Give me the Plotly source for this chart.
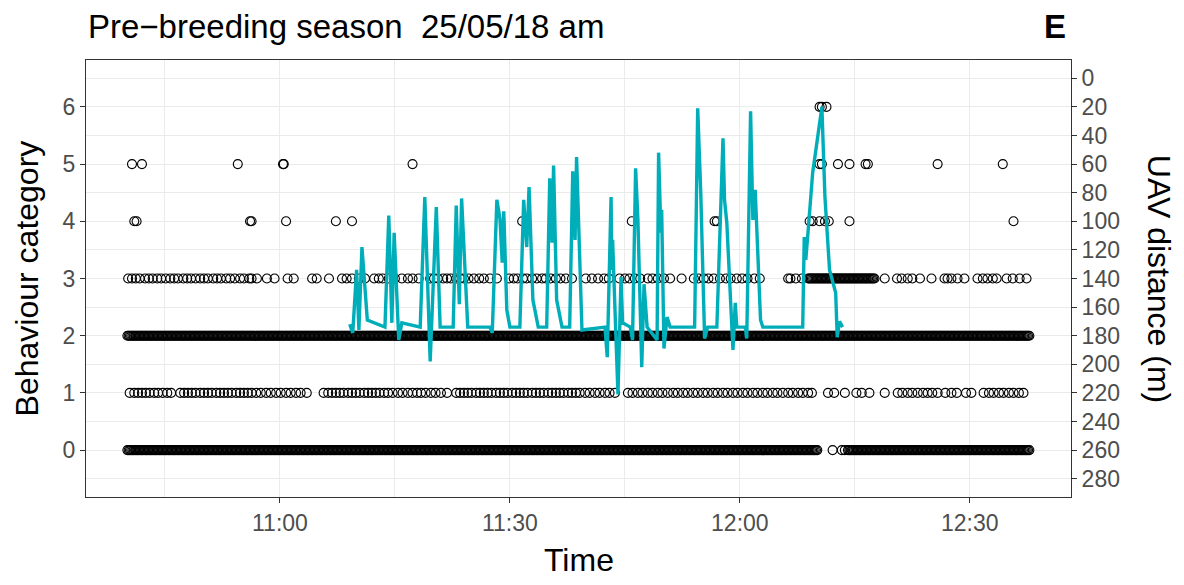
import numpy as np
import pandas as pd
import plotly.graph_objects as go

# ---- data ---------------------------------------------------------------
# All times are minutes after 11:00 on 25/05/18.
DAY_REF = pd.Timestamp("2018-05-25 11:00:00")

# Behaviour bouts scored continuously (category -> list of (start, end)),
# logged every LOG_STEP_S seconds.
LOG_STEP_S = 10
BOUTS = {
    0: [(-19.9, 70.2), (74.1, 97.8)],
    2: [(-19.9, 97.8)],
    3: [(68.9, 77.6)],
}

# Isolated behaviour records per category
REC_0 = [72.1, 73.3, 73.7]
REC_1 = [-19.6, -19.0, -18.5, -18.0, -17.5, -17.0, -16.4, -15.9, -15.3, -14.7,
         -14.2, -13.0, -12.5, -12.0, -11.5, -11.0, -10.4, -9.9, -9.4, -8.9,
         -8.3, -7.8, -7.3, -6.8, -6.3, -5.7, -5.2, -4.7, -4.2, -3.7, -3.1,
         -2.5, -1.8, -1.2, -0.5, 0.1, 0.8, 1.4, 2.1, 2.7, 3.5,
         5.7, 6.3, 6.8, 7.3, 7.8, 8.3, 8.9, 9.4, 9.9, 10.4, 11.0, 11.5, 12.0,
         12.5, 13.0, 13.6, 14.1, 14.7, 15.4, 16.0, 16.7, 17.3, 17.9,
         18.4, 19.0, 19.7, 20.3, 21.0, 21.8,
         23.0, 23.5, 24.0, 24.5, 25.0, 25.6, 26.1, 26.6, 27.1, 27.6, 28.2,
         28.7, 29.2, 29.7, 30.3, 30.8, 31.3, 31.8, 32.3, 32.9, 33.4, 33.9,
         34.4, 35.0, 35.5, 36.0, 36.5, 37.0, 37.6, 38.1, 38.6, 39.1, 39.8,
         40.4, 41.1, 41.7, 42.4, 43.0, 43.7,
         45.4, 46.0, 46.7, 47.3, 48.0, 48.6, 49.3, 49.9, 50.6, 51.3, 51.9,
         52.6, 53.2, 53.9, 54.5, 55.2, 55.8, 56.5, 57.1, 57.8, 58.4, 59.1,
         59.7, 60.4, 61.0, 61.7, 62.3, 63.0, 63.6, 64.3, 64.9, 65.6, 66.3,
         66.9, 67.6, 68.2, 68.9, 69.4,
         71.5, 72.3, 73.7, 75.2, 75.9, 76.9, 78.9,
         80.6, 81.2, 81.9, 82.5, 83.2, 83.9, 84.5, 85.1, 85.8,
         86.8, 87.6, 88.3, 89.5, 90.2,
         91.8, 92.5, 93.1, 93.8, 94.4, 95.1, 95.7, 96.4, 97.0]
REC_3 = [-19.8, -19.3, -18.8, -18.3, -17.6, -17.1, -16.6, -16.0, -15.5, -14.9,
         -14.3, -13.8, -13.3, -12.6, -12.1, -11.6, -11.0, -10.4, -9.9, -9.4,
         -8.7, -8.2, -7.7, -7.0, -6.5, -5.9, -5.2, -4.7, -4.0, -3.7, -3.0,
         -1.7, -0.7, 1.0, 1.8, 4.2, 4.8, 6.4,
         8.1, 8.7, 9.4, 10.3, 11.1, 12.3, 12.9, 13.4, 14.2, 15.0, 15.9,
         16.7, 17.3, 18.1, 19.6, 20.1, 20.6, 21.3, 21.8, 22.3, 23.0, 23.5,
         24.0, 24.6, 25.3, 26.0, 26.6, 27.4, 28.3,
         29.9, 30.5, 31.0, 31.7, 32.2, 32.9, 33.5, 34.2, 34.7, 35.3, 36.0,
         36.6, 37.3, 38.1, 39.9, 40.7, 41.5, 42.3, 42.9,
         44.3, 45.0, 45.6, 46.3, 47.0, 48.0, 48.6, 49.3, 50.1, 50.9, 52.4,
         54.0, 54.6, 55.3, 55.9, 56.6, 57.4, 58.2, 58.8, 59.6, 60.3, 61.0,
         61.9, 62.6, 66.3, 66.6, 67.3, 68.1,
         78.9, 80.5, 81.1, 81.9, 82.5, 83.5, 85.0, 86.7, 87.1, 87.6, 88.4,
         89.3, 91.0, 91.7, 92.3, 93.0, 93.5, 94.8, 95.6, 96.5, 97.4]
REC_4 = [-19.0, -18.7, -3.9, -3.7, 0.8, 7.3, 9.4, 31.6, 45.9, 56.7, 57.0,
         69.1, 69.5, 70.4, 71.1, 71.6, 74.3, 95.7]
REC_5 = [-19.3, -18.0, -5.5, 0.4, 0.5, 17.3, 70.4, 70.7, 72.8, 74.3,
         76.4, 76.7, 85.8, 94.3]
REC_6 = [70.4, 70.7, 71.3]

# UAV distance track (m)
UAV_MIN = [9.1, 9.5, 10.0, 10.3, 10.7, 11.4, 13.7, 14.2, 14.6, 14.9,
           15.5, 15.9, 18.3, 18.9, 19.6, 20.4, 20.9, 22.6, 23.0, 23.4,
           23.7, 24.5, 27.4, 27.7, 28.3, 28.7, 29.0, 29.2, 29.6, 30.0,
           31.3, 31.8, 32.2, 32.5, 33.0, 33.7, 34.8, 35.2, 35.5, 35.7,
           36.1, 36.8, 37.8, 38.2, 38.5, 38.7, 39.4, 42.4, 42.7, 43.2,
           43.3, 43.4, 43.8, 44.1, 44.5, 44.7, 45.7, 46.0, 46.4, 46.7,
           47.2, 47.5, 47.9, 49.2, 49.4, 49.7, 49.8, 50.1, 50.5, 50.9,
           54.1, 54.5, 54.9, 55.4, 55.8, 57.0, 57.8, 58.0, 58.3, 59.1,
           59.4, 59.6, 60.7, 60.9, 61.4, 61.7, 62.0, 62.7, 63.0, 68.2,
           68.4, 68.6, 68.9, 69.5, 70.7, 71.1, 71.7, 72.5, 72.7, 73.0, 73.4]
UAV_DIST = [172, 178, 134, 176, 118, 169, 174, 96, 171, 108,
            183, 171, 174, 83, 198, 90, 174, 174, 89, 158,
            84, 174, 174, 178, 85, 98, 129, 93, 162, 174,
            174, 85, 118, 76, 155, 174, 174, 70, 115, 61,
            155, 174, 174, 65, 113, 55, 176, 174, 195, 83,
            134, 113, 176, 221, 139, 171, 174, 183, 63, 99,
            202, 144, 174, 183, 52, 108, 92, 189, 167, 174,
            174, 21, 80, 182, 174, 174, 42, 85, 101, 190,
            157, 174, 174, 182, 23, 99, 78, 169, 174, 174,
            111, 127, 107, 66, 20, 83, 134, 150, 181, 170, 174]

# Axis ticks
MAJOR_TIMES = ["11:00", "11:30", "12:00", "12:30"]
MINOR_TIMES = ["10:45", "11:15", "11:45", "12:15", "12:45"]
BEHAV_TICKS = [0, 1, 2, 3, 4, 5, 6]
DIST_TICKS = list(range(0, 281, 20))

TITLE = "Pre\u2212breeding season  25/05/18 am"
PANEL_TAG = "E"

# ---- helpers ------------------------------------------------------------
def to_time(minutes):
    return DAY_REF + pd.to_timedelta(np.asarray(minutes, dtype=float), unit="m")


def clock(hhmm):
    return pd.Timestamp(f"2018-05-25 {hhmm}:00")


def behaviour_points():
    xs, ys = [], []
    for cat, bouts in BOUTS.items():
        for start, end in bouts:
            secs = np.arange(start * 60, end * 60 + 1e-6, LOG_STEP_S)
            xs.append(secs / 60.0)
            ys.append(np.full(len(secs), cat))
    for cat, recs in [(0, REC_0), (1, REC_1), (3, REC_3), (4, REC_4),
                      (5, REC_5), (6, REC_6)]:
        xs.append(np.asarray(recs, dtype=float))
        ys.append(np.full(len(recs), cat))
    return np.concatenate(xs), np.concatenate(ys)


# behaviour axis -> distance axis (secondary scale)
def behav_to_dist(b):
    return 260 - 40 * b


BEHAV_RANGE = [-0.82, 6.82]
DIST_RANGE = [behav_to_dist(BEHAV_RANGE[0]), behav_to_dist(BEHAV_RANGE[1])]

# ---- figure -------------------------------------------------------------
FONT = "Liberation Sans, Arial, Helvetica, sans-serif"
TICK_FONT = dict(family=FONT, size=23, color="#4D4D4D")
AX_COL = "#333333"
GRID = "#EBEBEB"
TITLE_SIZE = 33
AXIS_TITLE_SIZE = 32

bx, by = behaviour_points()

fig = go.Figure()
fig.add_trace(go.Scatter(
    x=to_time(bx), y=by, mode="markers",
    marker=dict(symbol="circle-open", size=9, color="black",
                line=dict(width=1.1, color="black")),
    hoverinfo="skip", showlegend=False,
))
fig.add_trace(go.Scatter(
    x=to_time(UAV_MIN), y=UAV_DIST, yaxis="y2", mode="lines",
    line=dict(color="#00AEBA", width=3.4),
    showlegend=False,
))

x_lo, x_hi = -25.3, 103.2

fig.update_layout(
    width=1184, height=585,
    margin=dict(l=86, r=113, t=60, b=88),
    paper_bgcolor="white", plot_bgcolor="white",
    font=dict(family=FONT, color="black"),
    xaxis=dict(
        type="date",
        range=[to_time(x_lo), to_time(x_hi)],
        tickmode="array",
        tickvals=[clock(t) for t in MAJOR_TIMES],
        ticktext=MAJOR_TIMES,
        tickfont=TICK_FONT,
        ticks="outside", ticklen=5, tickwidth=1, tickcolor=AX_COL,
        showgrid=True, gridcolor=GRID, gridwidth=1.3,
        minor=dict(tickmode="array",
                   tickvals=[clock(t) for t in MINOR_TIMES],
                   showgrid=True, gridcolor=GRID, gridwidth=0.7, ticks=""),
        showline=True, linecolor=AX_COL, linewidth=1, mirror=True,
        zeroline=False,
    ),
    yaxis=dict(
        range=BEHAV_RANGE,
        tickmode="array", tickvals=BEHAV_TICKS,
        tickfont=TICK_FONT,
        ticks="outside", ticklen=5, tickwidth=1, tickcolor=AX_COL,
        showgrid=True, gridcolor=GRID, gridwidth=1.3,
        minor=dict(tickmode="array",
                   tickvals=[v + 0.5 for v in [-1] + BEHAV_TICKS],
                   showgrid=True, gridcolor=GRID, gridwidth=0.7, ticks=""),
        showline=True, linecolor=AX_COL, linewidth=1, mirror=True,
        zeroline=False,
    ),
    yaxis2=dict(
        overlaying="y", side="right",
        range=DIST_RANGE,
        tickmode="array", tickvals=DIST_TICKS,
        tickfont=TICK_FONT,
        ticks="outside", ticklen=5, tickwidth=1, tickcolor=AX_COL,
        showgrid=False, zeroline=False,
        showline=True, linecolor=AX_COL, linewidth=1,
    ),
    annotations=[
        dict(text=TITLE, xref="paper", yref="paper", x=0, y=1.077,
             xanchor="left", yanchor="middle", showarrow=False,
             font=dict(family=FONT, size=TITLE_SIZE, color="black")),
        dict(text=f"<b>{PANEL_TAG}</b>", xref="paper", yref="paper",
             x=0.997, y=1.077, xanchor="right", yanchor="middle",
             showarrow=False,
             font=dict(family=FONT, size=TITLE_SIZE, color="black")),
        dict(text="Time", xref="paper", yref="paper", x=0.5, y=-0.145,
             xanchor="center", yanchor="middle", showarrow=False,
             font=dict(family=FONT, size=AXIS_TITLE_SIZE, color="black")),
        dict(text="Behaviour category", xref="paper", yref="paper",
             x=-0.06, y=0.5, xanchor="center", yanchor="middle",
             textangle=-90, showarrow=False,
             font=dict(family=FONT, size=AXIS_TITLE_SIZE, color="black")),
        dict(text="UAV distance (m)", xref="paper", yref="paper",
             x=1.09, y=0.5, xanchor="center", yanchor="middle",
             textangle=90, showarrow=False,
             font=dict(family=FONT, size=AXIS_TITLE_SIZE, color="black")),
    ],
)

fig.write_html("out.html")
